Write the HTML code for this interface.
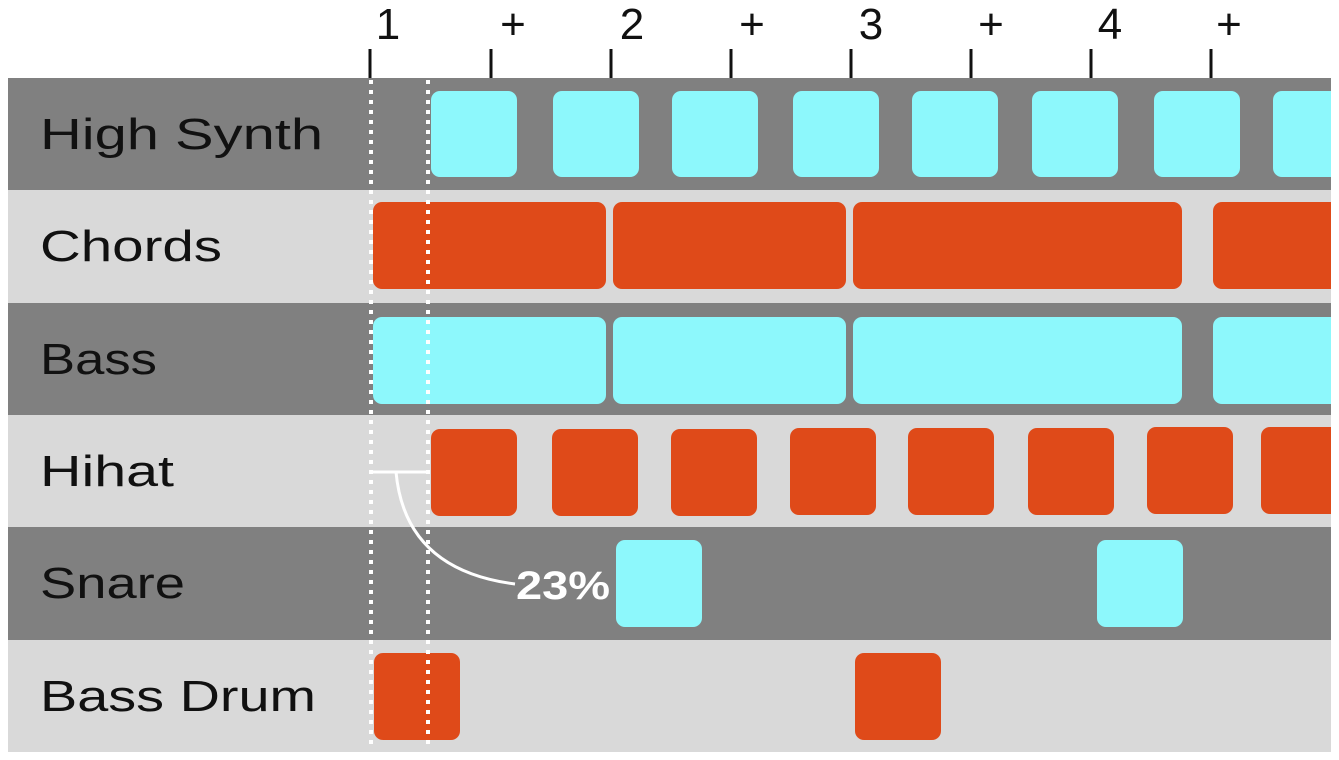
<!DOCTYPE html>
<html><head><style>
html,body{margin:0;padding:0;background:#fff;}
svg{display:block;}
</style></head><body>
<svg width="1339" height="760" xmlns="http://www.w3.org/2000/svg" font-family="Liberation Sans, sans-serif">
<rect x="0" y="0" width="1339" height="760" fill="#fff"/>
<rect x="8" y="78" width="1323" height="112" fill="#808080"/>
<rect x="8" y="190" width="1323" height="113" fill="#d9d9d9"/>
<rect x="8" y="303" width="1323" height="112" fill="#808080"/>
<rect x="8" y="415" width="1323" height="112" fill="#d9d9d9"/>
<rect x="8" y="527" width="1323" height="113" fill="#808080"/>
<rect x="8" y="640" width="1323" height="112" fill="#d9d9d9"/>
<g fill="#111" font-size="44">
<text x="40" y="149" textLength="283" lengthAdjust="spacingAndGlyphs">High Synth</text>
<text x="40" y="261" textLength="182" lengthAdjust="spacingAndGlyphs">Chords</text>
<text x="40" y="374" textLength="117" lengthAdjust="spacingAndGlyphs">Bass</text>
<text x="40" y="486" textLength="134" lengthAdjust="spacingAndGlyphs">Hihat</text>
<text x="40" y="598" textLength="145" lengthAdjust="spacingAndGlyphs">Snare</text>
<text x="40" y="711" textLength="276" lengthAdjust="spacingAndGlyphs">Bass Drum</text>
</g>
<g fill="#111" font-size="44" text-anchor="middle">
<text x="388" y="39">1</text><text x="513" y="39">+</text>
<text x="632" y="39">2</text><text x="752" y="39">+</text>
<text x="871" y="39">3</text><text x="991" y="39">+</text>
<text x="1110" y="39">4</text><text x="1229" y="39">+</text>
</g>
<g stroke="#111" stroke-width="3">
<line x1="370" y1="49" x2="370" y2="78"/><line x1="491" y1="49" x2="491" y2="78"/>
<line x1="611" y1="49" x2="611" y2="78"/><line x1="731" y1="49" x2="731" y2="78"/>
<line x1="851" y1="49" x2="851" y2="78"/><line x1="971" y1="49" x2="971" y2="78"/>
<line x1="1091" y1="49" x2="1091" y2="78"/><line x1="1211" y1="49" x2="1211" y2="78"/>
</g>
<g fill="#8df8fc">
<rect x="431" y="91" width="86" height="86" rx="9"/>
<rect x="553" y="91" width="86" height="86" rx="9"/>
<rect x="672" y="91" width="86" height="86" rx="9"/>
<rect x="793" y="91" width="86" height="86" rx="9"/>
<rect x="912" y="91" width="86" height="86" rx="9"/>
<rect x="1032" y="91" width="86" height="86" rx="9"/>
<rect x="1154" y="91" width="86" height="86" rx="9"/>
<rect x="1273" y="91" width="86" height="86" rx="9"/>
<rect x="373" y="317" width="233" height="87" rx="9"/>
<rect x="613" y="317" width="233" height="87" rx="9"/>
<rect x="853" y="317" width="329" height="87" rx="9"/>
<rect x="1213" y="317" width="140" height="87" rx="9"/>
<rect x="616" y="540" width="86" height="87" rx="9"/>
<rect x="1097" y="540" width="86" height="87" rx="9"/>
</g>
<g fill="#df4a19">
<rect x="373" y="202" width="233" height="87" rx="9"/>
<rect x="613" y="202" width="233" height="87" rx="9"/>
<rect x="853" y="202" width="329" height="87" rx="9"/>
<rect x="1213" y="202" width="140" height="87" rx="9"/>
<rect x="431" y="429" width="86" height="87" rx="9"/>
<rect x="552" y="429" width="86" height="87" rx="9"/>
<rect x="671" y="429" width="86" height="87" rx="9"/>
<rect x="790" y="428" width="86" height="87" rx="9"/>
<rect x="908" y="428" width="86" height="87" rx="9"/>
<rect x="1028" y="428" width="86" height="87" rx="9"/>
<rect x="1147" y="427" width="86" height="87" rx="9"/>
<rect x="1261" y="427" width="90" height="87" rx="9"/>
<rect x="374" y="653" width="86" height="87" rx="9"/>
<rect x="855" y="653" width="86" height="87" rx="9"/>
</g>
<rect x="1331" y="70" width="8" height="690" fill="#fff"/>
<g stroke="#fff" stroke-width="4" stroke-dasharray="4,6">
<line x1="371" y1="80" x2="371" y2="745"/>
<line x1="428" y1="80" x2="428" y2="745"/>
</g>
<g stroke="#fff" stroke-width="3" fill="none">
<line x1="370" y1="472" x2="428" y2="472"/>
<path d="M396 472 Q 405 570 515 584"/>
</g>
<text x="516" y="599" fill="#fff" font-size="40" font-weight="bold" textLength="94" lengthAdjust="spacingAndGlyphs">23%</text>
</svg>
</body></html>
